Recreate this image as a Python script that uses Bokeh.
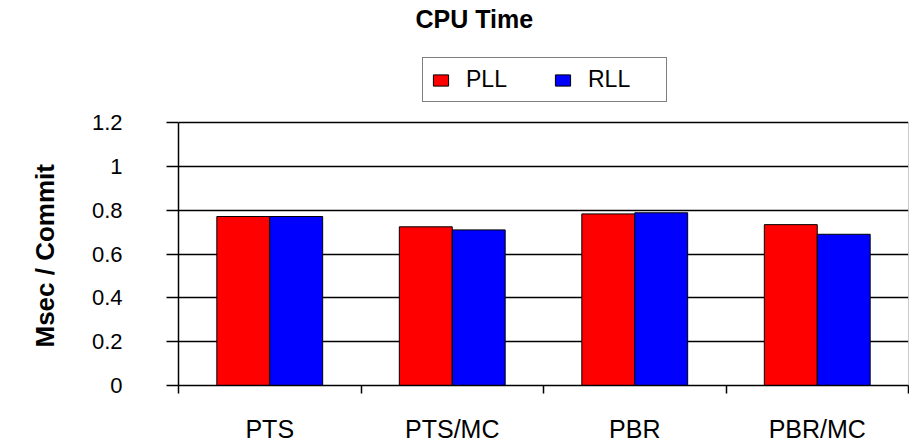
from bokeh.plotting import figure
from bokeh.models import Range1d, FixedTicker, Legend, LegendItem, Title
from bokeh.embed import file_html
from bokeh.resources import INLINE

categories = ["PTS", "PTS/MC", "PBR", "PBR/MC"]
series_names = ["PLL", "RLL"]
pll = [0.771, 0.724, 0.783, 0.734]
rll = [0.771, 0.710, 0.788, 0.690]
y_ticks = [0, 0.2, 0.4, 0.6, 0.8, 1.0, 1.2]
y_tick_labels = ["0", "0.2", "0.4", "0.6", "0.8", "1", "1.2"]
colors = ["#FF0000", "#0000FF"]
y_title = "Msec / Commit"
chart_title = "CPU Time"

FONT = "Liberation Sans"
n = len(categories)
bar_w = 0.29

# layout (pixels): frame spans from top border to axis; axis max 1.2 sits below the legend
W, H = 909, 446
top_b, bot_b, left_b, right_b = 34, 61, 178, 1
plot_top_px = 122          # pixel row of the 1.2 gridline
axis_px = H - bot_b        # pixel row of the 0 line
y_max = y_ticks[-1]
y_end = y_max * (axis_px - top_b) / (axis_px - plot_top_px)

p = figure(width=W, height=H, x_range=Range1d(0, n), y_range=Range1d(0, y_end),
           output_backend="svg", toolbar_location=None,
           min_border_left=left_b, min_border_right=right_b,
           min_border_top=top_b, min_border_bottom=bot_b)
p.outline_line_color = None

centers = [i + 0.5 for i in range(n)]
r1 = p.vbar(x=[c - bar_w / 2 for c in centers], top=pll, width=bar_w, bottom=0,
            fill_color=colors[0], line_color="black", line_width=1)
r2 = p.vbar(x=[c + bar_w / 2 for c in centers], top=rll, width=bar_w, bottom=0,
            fill_color=colors[1], line_color="black", line_width=1)
# right edge of the plot area
p.segment(x0=[n], y0=[0], x1=[n], y1=[y_max], line_color="#999999", line_width=1)

p.title.text = chart_title
p.title.text_font = FONT
p.title.text_font_size = "25px"
p.title.text_font_style = "bold"
p.title.text_color = "black"
p.title.align = "left"
p.title.offset = 237
p.title.standoff = 4

# y axis
p.yaxis.ticker = FixedTicker(ticks=y_ticks)
p.yaxis.bounds = (0, y_max)
p.yaxis.major_label_overrides = {t: l for t, l in zip(y_ticks, y_tick_labels)}
p.yaxis.major_label_text_font = FONT
p.yaxis.major_label_text_font_size = "22px"
p.yaxis.major_label_text_color = "black"
p.yaxis.major_tick_out = 12
p.yaxis.major_tick_in = 0
p.yaxis.major_tick_line_width = 1.5
p.yaxis.major_tick_line_color = "black"
p.yaxis.minor_tick_line_color = None
p.yaxis.major_label_standoff = 44
p.yaxis.axis_line_color = "black"
p.yaxis.axis_line_width = 1.5

ytitle = Title(text=y_title, align="left", vertical_align="top", offset=38, standoff=54,
               text_font=FONT, text_font_size="26px", text_font_style="bold",
               text_color="black")
p.add_layout(ytitle, "left")

# x axis
p.xaxis.ticker = FixedTicker(ticks=centers, minor_ticks=list(range(n + 1)))
p.xaxis.major_label_overrides = {c: l for c, l in zip(centers, categories)}
p.xaxis.major_label_text_font = FONT
p.xaxis.major_label_text_font_size = "25px"
p.xaxis.major_label_text_color = "black"
p.xaxis.major_tick_line_color = None
p.xaxis.major_tick_out = 0
p.xaxis.major_tick_in = 0
p.xaxis.minor_tick_out = 8
p.xaxis.minor_tick_in = 0
p.xaxis.minor_tick_line_color = "black"
p.xaxis.minor_tick_line_width = 1.5
p.xaxis.major_label_standoff = 21
p.xaxis.axis_line_color = "black"
p.xaxis.axis_line_width = 1.5

p.xgrid.grid_line_color = None
p.ygrid.ticker = FixedTicker(ticks=y_ticks)
p.ygrid.grid_line_color = "black"
p.ygrid.grid_line_width = 1.5

legend = Legend(items=[LegendItem(label=series_names[0], renderers=[r1]),
                       LegendItem(label=series_names[1], renderers=[r2])],
                orientation="horizontal", location=(244, 283),
                label_text_font=FONT, label_text_font_size="23px", label_text_color="black",
                glyph_width=19, glyph_height=14, label_standoff=16,
                label_width=70, spacing=17, padding=8, margin=0,
                border_line_color="black", border_line_width=1)
p.add_layout(legend, "center")

open("out.html", "w").write(file_html(p, INLINE))
